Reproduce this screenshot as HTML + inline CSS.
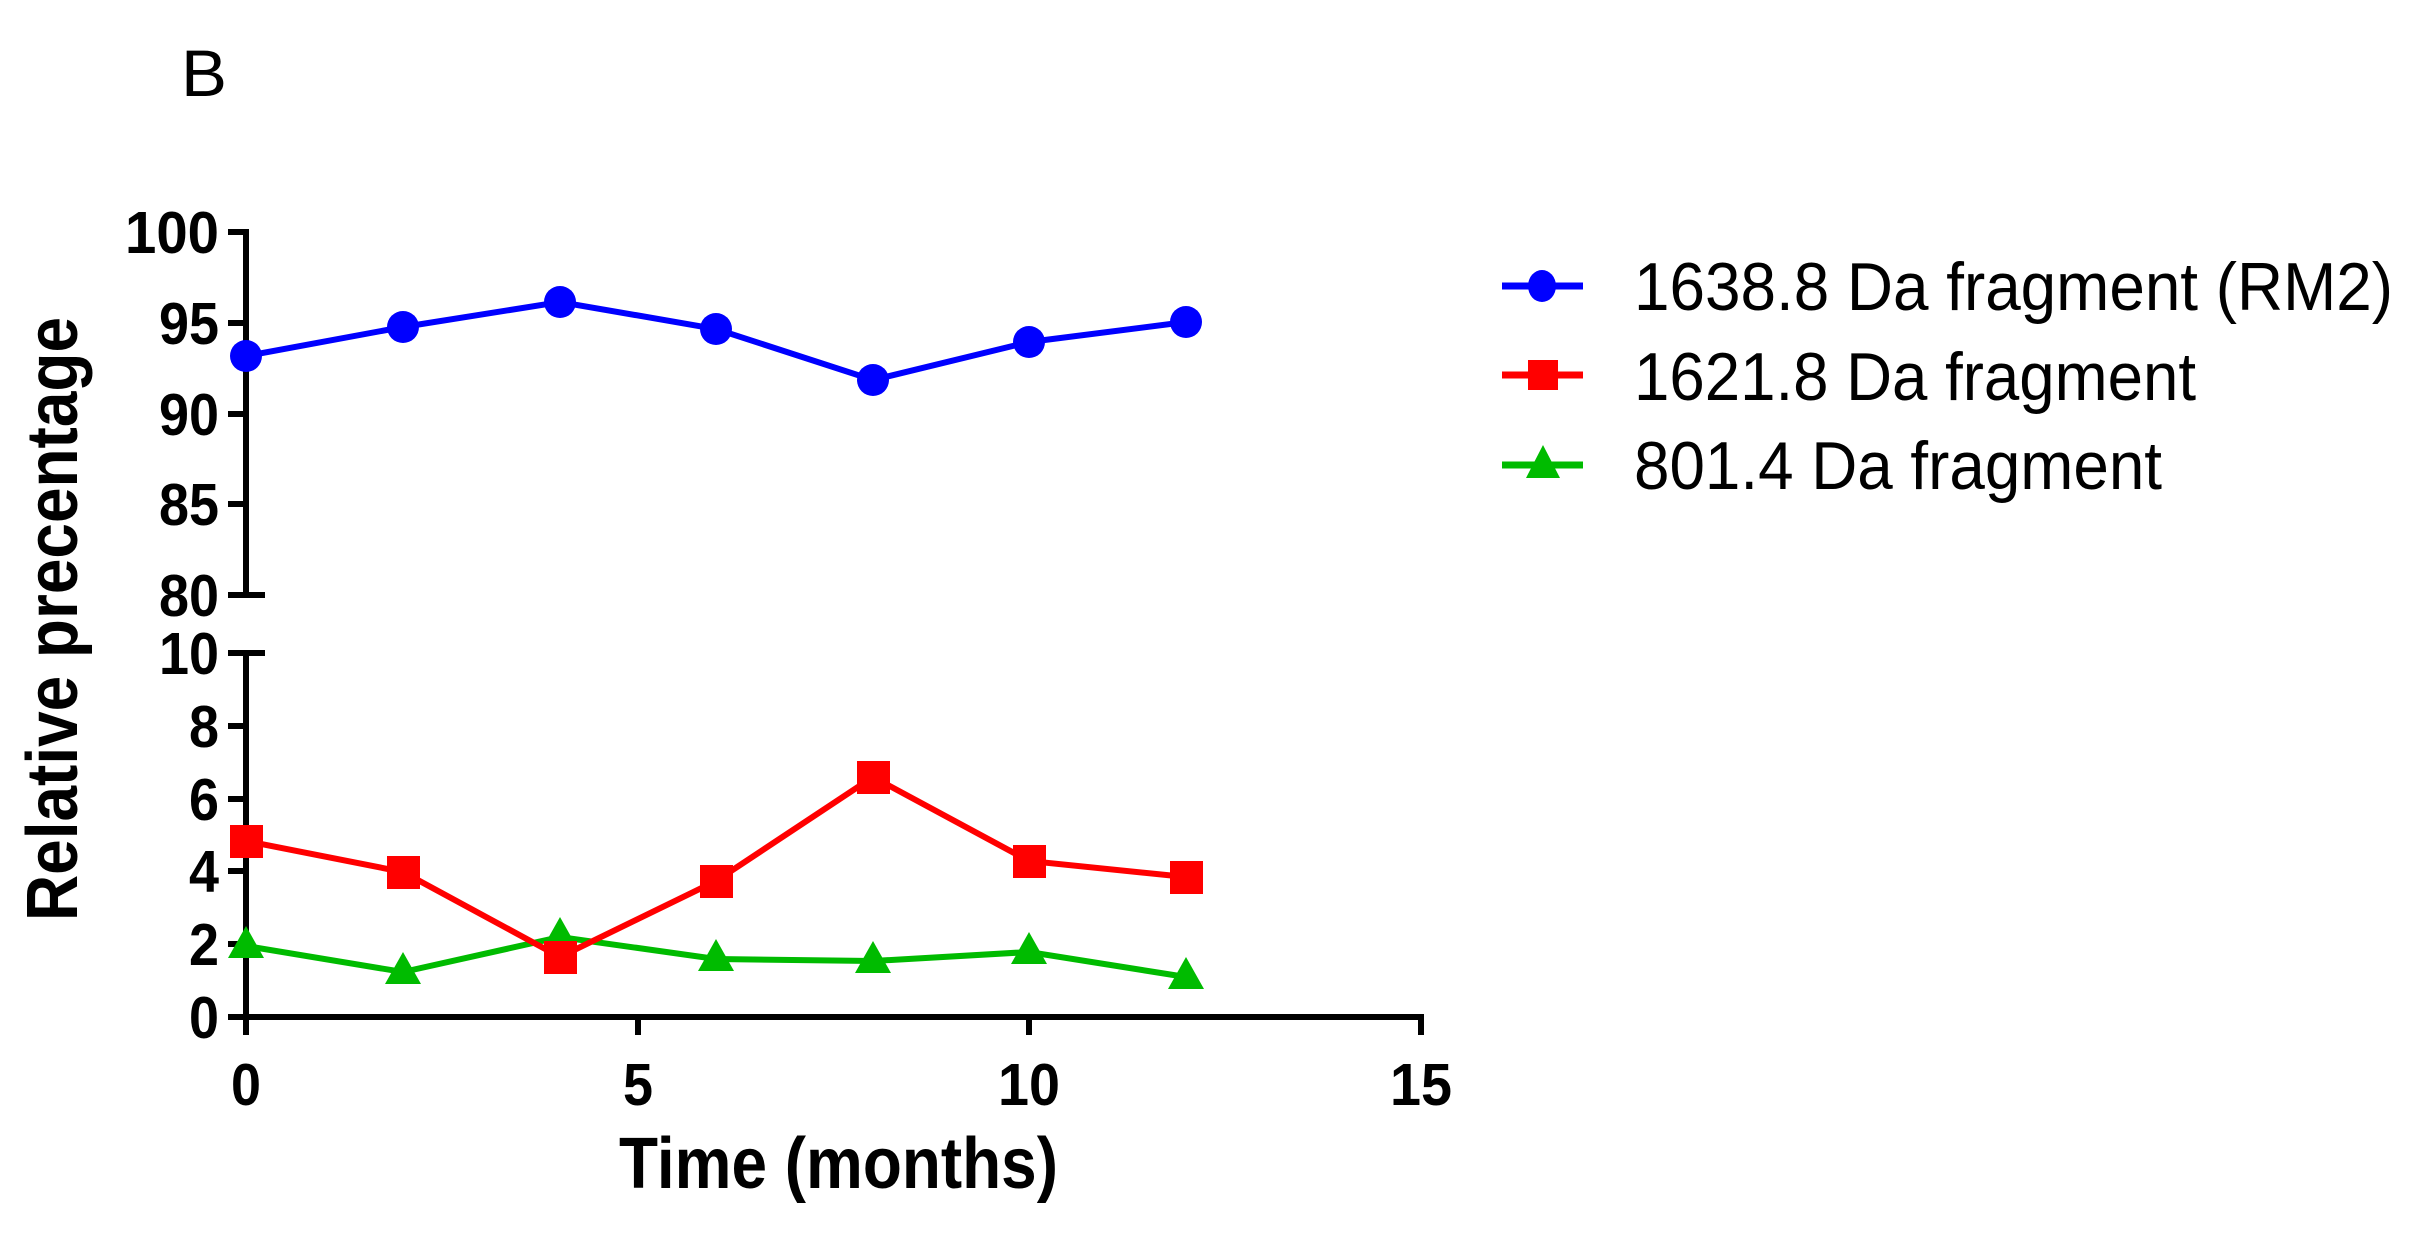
<!DOCTYPE html>
<html><head><meta charset="utf-8"><style>
html,body{margin:0;padding:0;background:#fff;}
svg{display:block;}
text{font-family:"Liberation Sans",Arial,sans-serif;}
</style></head><body>
<svg width="2428" height="1236" viewBox="0 0 2428 1236" xmlns="http://www.w3.org/2000/svg">
<text x="181" y="96" font-size="66" fill="#000" textLength="46" lengthAdjust="spacingAndGlyphs">B</text>
<g stroke="#000" stroke-width="6" fill="none">
<line x1="246" y1="229" x2="246" y2="598"/>
<line x1="246" y1="650" x2="246" y2="1020"/>
<line x1="243" y1="1017" x2="1424" y2="1017"/>
<line x1="228" y1="232" x2="246" y2="232"/>
<line x1="228" y1="323" x2="246" y2="323"/>
<line x1="228" y1="414" x2="246" y2="414"/>
<line x1="228" y1="504" x2="246" y2="504"/>
<line x1="228" y1="595" x2="265" y2="595"/>
<line x1="228" y1="653" x2="265" y2="653"/>
<line x1="228" y1="726" x2="246" y2="726"/>
<line x1="228" y1="799" x2="246" y2="799"/>
<line x1="228" y1="871" x2="246" y2="871"/>
<line x1="228" y1="944" x2="246" y2="944"/>
<line x1="228" y1="1017" x2="246" y2="1017"/>
<line x1="246" y1="1017" x2="246" y2="1035"/>
<line x1="638" y1="1017" x2="638" y2="1035"/>
<line x1="1029" y1="1017" x2="1029" y2="1035"/>
<line x1="1421" y1="1017" x2="1421" y2="1035"/>
</g>
<g font-size="59" font-weight="bold" text-anchor="end" fill="#000">
<text x="219" y="253" textLength="94" lengthAdjust="spacingAndGlyphs">100</text>
<text x="219" y="344" textLength="60" lengthAdjust="spacingAndGlyphs">95</text>
<text x="219" y="435" textLength="60" lengthAdjust="spacingAndGlyphs">90</text>
<text x="219" y="525" textLength="60" lengthAdjust="spacingAndGlyphs">85</text>
<text x="219" y="616" textLength="60" lengthAdjust="spacingAndGlyphs">80</text>
<text x="219" y="674" textLength="60" lengthAdjust="spacingAndGlyphs">10</text>
<text x="219" y="747" textLength="30" lengthAdjust="spacingAndGlyphs">8</text>
<text x="219" y="820" textLength="30" lengthAdjust="spacingAndGlyphs">6</text>
<text x="219" y="892" textLength="30" lengthAdjust="spacingAndGlyphs">4</text>
<text x="219" y="965" textLength="30" lengthAdjust="spacingAndGlyphs">2</text>
<text x="219" y="1038" textLength="30" lengthAdjust="spacingAndGlyphs">0</text>
</g>
<g font-size="59" font-weight="bold" text-anchor="middle" fill="#000">
<text x="246" y="1105" textLength="30" lengthAdjust="spacingAndGlyphs">0</text>
<text x="638" y="1105" textLength="30" lengthAdjust="spacingAndGlyphs">5</text>
<text x="1029" y="1105" textLength="62" lengthAdjust="spacingAndGlyphs">10</text>
<text x="1421" y="1105" textLength="62" lengthAdjust="spacingAndGlyphs">15</text>
</g>
<text x="619" y="1188" font-size="72" font-weight="bold" textLength="439" lengthAdjust="spacingAndGlyphs">Time (months)</text>
<text transform="translate(77,619) rotate(-90)" x="0" y="0" text-anchor="middle" font-size="72" font-weight="bold" textLength="604" lengthAdjust="spacingAndGlyphs">Relative precentage</text>
<polyline fill="none" stroke="#0000ff" stroke-width="6" points="246,356 403,327 560,302 716,329 873,380 1029,342 1186,322"/>
<g fill="#0000ff">
<circle cx="246" cy="356" r="16"/><circle cx="403" cy="327" r="16"/><circle cx="560" cy="302" r="16"/><circle cx="716" cy="329" r="16"/><circle cx="873" cy="380" r="16"/><circle cx="1029" cy="342" r="16"/><circle cx="1186" cy="322" r="16"/>
</g>
<polyline fill="none" stroke="#00bb00" stroke-width="6" points="246,946 403,972 560,937 716,959 873,961 1029,952 1186,977"/>
<g fill="#00bb00">
<polygon points="246,926 264,958 228,958"/><polygon points="403,952 421,984 385,984"/><polygon points="560,917 578,949 542,949"/><polygon points="716,939 734,971 698,971"/><polygon points="873,941 891,973 855,973"/><polygon points="1029,932 1047,964 1011,964"/><polygon points="1186,957 1204,989 1168,989"/>
</g>
<polyline fill="none" stroke="#ff0000" stroke-width="6" points="246,841 403,872 560,957 716,881 873,777 1029,861 1186,877"/>
<g fill="#ff0000">
<rect x="230" y="825" width="33" height="33"/><rect x="387" y="856" width="33" height="33"/><rect x="544" y="941" width="33" height="33"/><rect x="700" y="865" width="33" height="33"/><rect x="857" y="761" width="33" height="33"/><rect x="1013" y="845" width="33" height="33"/><rect x="1170" y="861" width="33" height="33"/>
</g>
<line x1="1502" y1="286" x2="1583" y2="286" stroke="#0000ff" stroke-width="7"/>
<ellipse cx="1542" cy="286" rx="14" ry="16" fill="#0000ff"/>
<line x1="1502" y1="375" x2="1583" y2="375" stroke="#ff0000" stroke-width="7"/>
<rect x="1528" y="360" width="30" height="30" fill="#ff0000"/>
<line x1="1502" y1="465" x2="1583" y2="465" stroke="#00bb00" stroke-width="7"/>
<polygon points="1543,445 1560,478 1526,478" fill="#00bb00"/>
<g font-size="68" fill="#000">
<text x="1634" y="310" textLength="759" lengthAdjust="spacingAndGlyphs">1638.8 Da fragment (RM2)</text>
<text x="1634" y="400" textLength="562" lengthAdjust="spacingAndGlyphs">1621.8 Da fragment</text>
<text x="1634" y="489" textLength="528" lengthAdjust="spacingAndGlyphs">801.4 Da fragment</text>
</g>
</svg>
</body></html>
